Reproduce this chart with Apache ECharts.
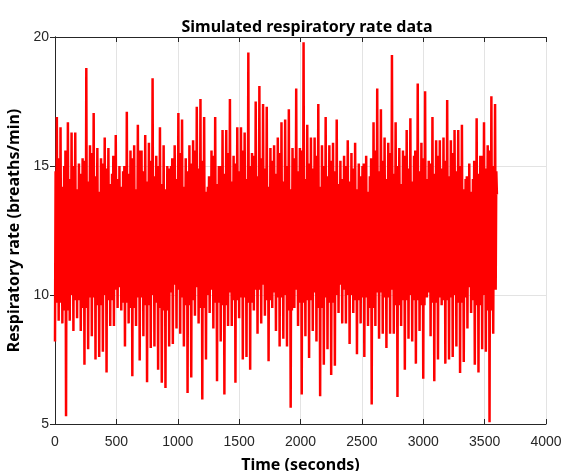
<!DOCTYPE html>
<html>
<head>
<meta charset="utf-8">
<script src="https://cdn.jsdelivr.net/npm/echarts@6/dist/echarts.min.js"></script>
<style>
  html, body { margin: 0; padding: 0; background: #fff; }
  #chart { width: 566px; height: 471px; }
</style>
</head>
<body>
<div id="chart"></div>
<script>
// troughs, one every 30 s starting at t = 0
const lowValues = [
  8.2, 9.0, 8.9, 5.3, 9.0, 8.6, 9.1, 8.6, 7.3, 7.9,
  8.4, 7.5, 7.6, 7.8, 7.0, 8.8, 8.8, 9.5, 9.4, 8.0,
  8.9, 6.85, 8.8, 7.46, 8.4, 6.62, 7.95, 8.0, 7.1, 6.6,
  6.4, 8.0, 8.1, 8.7, 8.5, 8.0, 6.2, 6.8, 9.2, 8.9,
  5.95, 7.5, 9.3, 8.7, 6.66, 8.2, 6.14, 8.8, 8.8, 6.6,
  9.1, 7.5, 7.6, 7.1, 9.4, 8.5, 8.9, 9.2, 7.43, 9.5,
  8.6, 8.0, 8.3, 8.0, 5.63, 9.5, 8.8, 6.14, 8.4, 7.56,
  8.6, 8.2, 6.08, 7.3, 7.9, 6.9, 7.26, 9.3, 8.9, 8.9,
  8.1, 9.3, 7.7, 8.9, 7.6, 8.8, 5.76, 8.8, 8.3, 8.5,
  7.95, 8.5, 8.5, 6.05, 8.8, 7.1, 8.3, 8.2, 7.34, 8.6,
  6.75, 9.9, 8.4, 6.66, 7.5, 9.6, 7.34, 7.5, 7.6, 8.0,
  6.98, 7.4, 8.7, 9.3, 7.3, 7.0, 7.9, 7.8, 5.07, 8.5
];
// peaks, one every 30 s starting at t = 15
const highValues = [
  16.9, 16.5, 15.0, 16.7, 16.3, 16.3, 15.1, 15.3, 18.8, 15.8,
  17.05, 15.7, 15.3, 16.1, 15.7, 14.7, 16.2, 15.0, 14.8, 17.1,
  15.6, 15.8, 16.6, 15.6, 16.2, 15.9, 18.4, 15.4, 16.5, 15.8,
  15.0, 15.0, 15.8, 17.05, 16.8, 15.3, 15.8, 16.0, 17.3, 17.6,
  16.9, 14.2, 15.6, 16.9, 15.0, 16.4, 16.4, 17.6, 15.4, 16.5,
  16.5, 16.3, 19.4, 15.5, 17.5, 18.1, 17.4, 17.3, 15.7, 15.8,
  16.1, 16.7, 16.8, 17.2, 15.7, 18.0, 15.7, 19.8, 16.6, 16.1,
  16.1, 17.4, 15.8, 16.9, 15.8, 15.9, 16.8, 15.2, 15.4, 16.0,
  15.5, 15.9, 15.1, 15.0, 15.4, 14.6, 16.7, 18.0, 17.2, 16.1,
  15.9, 19.3, 16.7, 15.7, 15.6, 16.4, 16.85, 15.4, 18.2, 15.9,
  17.9, 15.2, 16.9, 16.0, 16.0, 16.1, 17.56, 16.0, 16.4, 16.4,
  16.6, 14.5, 15.1, 14.5, 16.85, 15.4, 16.7, 15.8, 17.7, 17.4
];
// smaller upward swings inside the dense band (t + 5 s)
const midTop = [
  14.8, 15.3, 14.2, 15.6, 14.5, 15.0, 14.1, 14.7, 15.2, 14.4,
  15.5, 14.6, 14.0, 15.1, 14.9, 14.3, 15.4, 14.5, 14.2, 15.0,
  14.7, 15.3, 14.1, 15.6, 14.8, 14.4, 15.2, 14.6, 15.0, 14.3,
  14.1, 14.9, 15.3, 14.5, 15.5, 14.2, 14.8, 15.1, 15.6, 14.9,
  15.2, 14.0, 14.6, 15.4, 14.3, 15.0, 14.7, 15.5, 14.4, 15.1,
  14.8, 15.6, 14.5, 15.0, 15.4, 14.6, 15.3, 14.9, 14.2, 15.2,
  14.7, 15.5, 14.4, 15.0, 14.1, 15.3, 14.8, 15.6, 14.5, 15.1,
  14.9, 15.4, 14.2, 15.0, 14.6, 15.2, 14.8, 14.3, 14.5, 15.0,
  14.4, 14.9, 14.1, 14.6, 15.1, 14.0, 15.3, 15.6, 14.8, 15.2,
  14.5, 15.5, 14.7, 15.0, 14.3, 15.4, 14.9, 14.4, 15.6, 14.8,
  15.3, 14.5, 15.1, 14.7, 15.4, 14.9, 15.2, 14.6, 15.5, 14.8,
  15.0, 14.1, 14.6, 14.0, 15.2, 14.7, 15.4, 14.9, 15.6, 15.0
];
// smaller downward swings inside the dense band (either side of each peak)
const midBottom = [
  10.2, 9.7, 10.5, 9.4, 10.0, 10.6, 9.8, 10.3, 9.5, 10.1,
  9.9, 10.4, 9.6, 10.0, 10.7, 9.8, 10.2, 10.5, 10.3, 9.7,
  10.1, 9.5, 10.4, 9.9, 10.2, 9.6, 10.0, 10.3, 9.7, 9.5,
  9.4, 10.1, 10.4, 10.6, 10.2, 9.9, 9.6, 9.8, 10.5, 10.3,
  9.5, 10.0, 10.6, 10.2, 9.7, 10.4, 9.6, 10.3, 10.1, 9.8,
  10.5, 9.9, 10.0, 9.7, 10.6, 10.2, 10.4, 10.7, 9.8, 10.5,
  10.1, 9.9, 10.3, 10.0, 9.4, 10.6, 10.2, 9.7, 10.0, 9.8,
  10.3, 10.1, 9.5, 9.9, 10.2, 9.7, 10.0, 10.6, 10.4, 10.2,
  10.0, 10.5, 9.8, 10.3, 9.9, 10.4, 9.5, 10.2, 10.1, 10.3,
  9.9, 10.2, 10.4, 9.6, 10.3, 9.8, 10.1, 10.0, 9.8, 10.2,
  9.6, 10.7, 10.1, 9.7, 9.9, 10.5, 9.8, 9.9, 10.0, 10.2,
  9.7, 9.9, 10.3, 10.6, 9.8, 9.6, 10.1, 10.0, 9.4, 10.3
];
const lastPoint = [3600, 13.9];
const sampleStep = 30;

const xTicks = [0, 500, 1000, 1500, 2000, 2500, 3000, 3500, 4000];
const yTicks = [5, 10, 15, 20];

let seriesData = [];
lowValues.forEach((v, i) => {
  let t = i * sampleStep;
  let next = (i + 1) % midTop.length;
  seriesData.push([t, v]);
  seriesData.push([t + 5, midTop[i]]);
  seriesData.push([t + 10, midBottom[i]]);
  seriesData.push([t + 15, highValues[i]]);
  seriesData.push([t + 20, midBottom[next]]);
  seriesData.push([t + 25, midTop[next]]);
});
seriesData.push(lastPoint);

const axisColor = '#262626';
const gridColor = '#e3e3e3';
const labelFont = 'Liberation Sans';
const titleFont = '"Noto Sans", sans-serif';

const boxX = {
  type: 'value', position: 'top', min: 0, max: 4000, interval: 500,
  axisLine: { show: true, lineStyle: { color: axisColor } },
  axisTick: { show: true, inside: true, length: 5, lineStyle: { color: axisColor } },
  axisLabel: { show: false }, splitLine: { show: false }
};
const boxY = {
  type: 'value', position: 'right', min: 5, max: 20, interval: 5,
  axisLine: { show: true, lineStyle: { color: axisColor } },
  axisTick: { show: true, inside: true, length: 5, lineStyle: { color: axisColor } },
  axisLabel: { show: false }, splitLine: { show: false }
};

let option = {
  animation: false,
  backgroundColor: '#fff',
  title: {
    text: 'Simulated respiratory rate data',
    left: 302, top: 14, textAlign: 'center',
    textStyle: { fontFamily: titleFont, fontWeight: 'bold', fontSize: 16, color: '#000' }
  },
  grid: { left: 55, right: 20, top: 37, bottom: 47, containLabel: false, outerBoundsMode: 'none' },
  xAxis: [{
    type: 'value', min: xTicks[0], max: xTicks[xTicks.length - 1], interval: 500,
    name: 'Time (seconds)', nameLocation: 'middle', nameGap: 33,
    nameTextStyle: { fontFamily: titleFont, fontWeight: 'bold', fontSize: 16, color: '#000' },
    axisLine: { show: true, lineStyle: { color: axisColor } },
    axisTick: { show: true, inside: true, length: 5, lineStyle: { color: axisColor } },
    axisLabel: { margin: 11, fontFamily: labelFont, fontSize: 14, color: axisColor,
      formatter: (v) => String(v) },
    splitLine: { show: true, lineStyle: { color: gridColor } }
  }, boxX],
  yAxis: [{
    type: 'value', min: yTicks[0], max: yTicks[yTicks.length - 1], interval: 5,
    name: 'Respiratory rate (breaths/min)', nameLocation: 'middle', nameGap: 26,
    nameTextStyle: { fontFamily: titleFont, fontWeight: 'bold', fontSize: 16, color: '#000' },
    axisLine: { show: true, lineStyle: { color: axisColor } },
    axisTick: { show: true, inside: true, length: 5, lineStyle: { color: axisColor } },
    axisLabel: { margin: 6, fontFamily: labelFont, fontSize: 14, color: axisColor },
    splitLine: { show: true, lineStyle: { color: gridColor } }
  }, boxY],
  series: [{
    type: 'line',
    data: seriesData,
    showSymbol: false,
    clip: true,
    lineStyle: { color: '#ff0000', width: 2.5 },
    itemStyle: { color: '#ff0000' }
  }]
};

let myChart = echarts.init(document.getElementById('chart'));
myChart.setOption(option);
</script>
</body>
</html>
